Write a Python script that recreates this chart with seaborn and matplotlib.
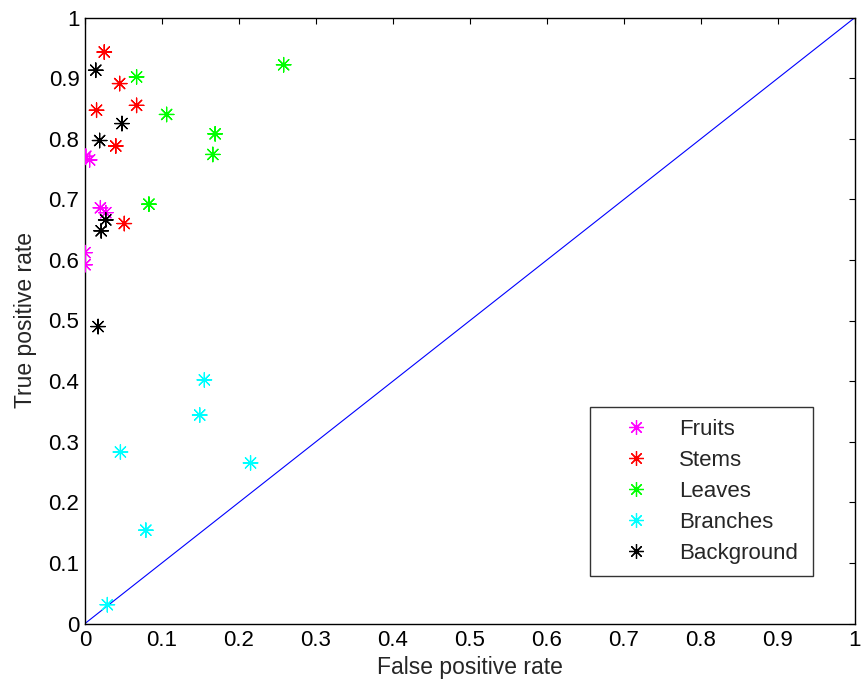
import matplotlib
matplotlib.use("Agg")
import matplotlib.pyplot as plt
import seaborn as sns
import pandas as pd

sns.set_style("white")
plt.rcParams['font.family'] = ['Liberation Sans', 'DejaVu Sans']

classes = ["Fruits", "Stems", "Leaves", "Branches", "Background"]
colors = ["#ff00ff", "#ff0000", "#00ff00", "#00ffff", "#000000"]

fruits_fpr = [0.001, 0.006, 0.020, 0.027, 0.000, 0.000]
fruits_tpr = [0.771, 0.765, 0.686, 0.678, 0.612, 0.592]
stems_fpr = [0.025, 0.045, 0.015, 0.067, 0.040, 0.051]
stems_tpr = [0.943, 0.891, 0.847, 0.855, 0.788, 0.660]
leaves_fpr = [0.258, 0.067, 0.106, 0.169, 0.166, 0.083]
leaves_tpr = [0.922, 0.902, 0.840, 0.808, 0.774, 0.692]
branches_fpr = [0.155, 0.149, 0.046, 0.215, 0.079, 0.029]
branches_tpr = [0.402, 0.344, 0.283, 0.265, 0.154, 0.031]
background_fpr = [0.014, 0.048, 0.019, 0.027, 0.021, 0.017]
background_tpr = [0.913, 0.825, 0.797, 0.666, 0.648, 0.490]

diag_x = [0, 1]
diag_y = [0, 1]
ticks = [0, 0.1, 0.2, 0.3, 0.4, 0.5, 0.6, 0.7, 0.8, 0.9, 1]
tick_labels = ["0", "0.1", "0.2", "0.3", "0.4", "0.5", "0.6", "0.7", "0.8", "0.9", "1"]

fprs = [fruits_fpr, stems_fpr, leaves_fpr, branches_fpr, background_fpr]
tprs = [fruits_tpr, stems_tpr, leaves_tpr, branches_tpr, background_tpr]
rows = []
for c, xs, ys in zip(classes, fprs, tprs):
    for x, y in zip(xs, ys):
        rows.append({"fpr": x, "tpr": y, "cls": c})
df = pd.DataFrame(rows)

fig = plt.figure(figsize=(8.62, 6.88), dpi=100)
ax = fig.add_axes([85/862, 64.5/688, 770/862, 606/688])

sns.lineplot(x=diag_x, y=diag_y, ax=ax, color="#0000ff", linewidth=0.8, legend=False)
sns.scatterplot(data=df, x="fpr", y="tpr", hue="cls", hue_order=classes,
                palette=colors, marker=(8, 2, 0), s=110, linewidth=0.9, ax=ax,
                legend=True, zorder=3)

ax.set_xlim(0, 1)
ax.set_ylim(0, 1)
ax.set_xticks(ticks)
ax.set_xticklabels(tick_labels)
ax.set_yticks(ticks)
ax.set_yticklabels(tick_labels)
ax.tick_params(direction="in", length=4, width=0.8, top=True, right=True,
               labelsize=16, colors="black")
ax.tick_params(axis="x", pad=5)
ax.tick_params(axis="y", pad=4)
for s in ax.spines.values():
    s.set_color("black")
    s.set_linewidth(1.0)
ax.set_xlabel("False positive rate", fontsize=16.5, labelpad=3)
ax.set_ylabel("True positive rate", fontsize=16.5, labelpad=8)

handles, labels = ax.get_legend_handles_labels()
leg = ax.legend(handles, labels, loc="upper left",
                bbox_to_anchor=(0.656, 0.0855, 0.289, 0.272), mode="expand",
                borderaxespad=0, fontsize=16, frameon=True, fancybox=False,
                edgecolor="black", handletextpad=0.4, handlelength=3.07,
                labelspacing=0.45, borderpad=0.55, markerscale=1.0)
leg.get_frame().set_linewidth(1.0)

fig.savefig("out.png", dpi=100)
